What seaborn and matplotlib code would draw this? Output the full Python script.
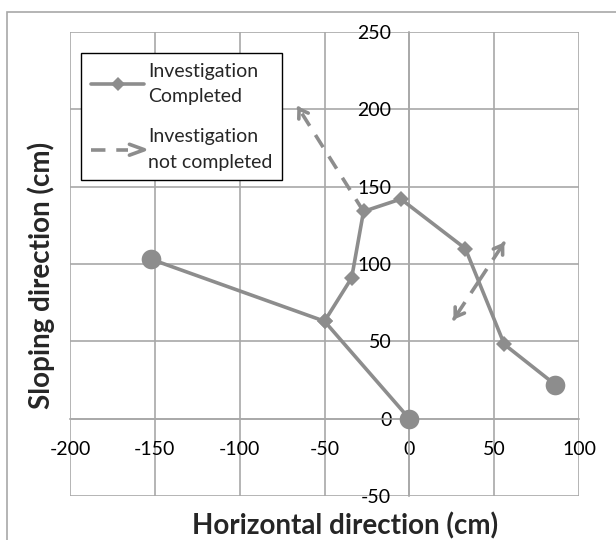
import numpy as np
import pandas as pd
import seaborn as sns
import matplotlib.pyplot as plt
from matplotlib.lines import Line2D
from matplotlib.patches import Rectangle
from matplotlib.legend_handler import HandlerBase

# Route with investigation completed (diamonds at each stop)
path_x = [0, -50, -34, -27, -5, 33, 56, 86]
path_y = [0, 63, 91, 134, 142, 110, 48, 22]
# Side branch to the far left end point
branch_x = [-50, -152]
branch_y = [63, 103]
# End points (big circles)
end_x = [0, -152, 86]
end_y = [0, 103, 22]
# Investigation not completed (dashed arrows)
arrow_x0 = [-27, 41, 41]
arrow_y0 = [134, 89, 89]
arrow_x1 = [-66, 56, 26]
arrow_y1 = [202, 114, 64]

grey = '#8d8d8d'
grid_grey = '#a8a8a8'

sns.set_style('white')
plt.rcParams['font.family'] = ['Lato', 'DejaVu Sans']
plt.rcParams['axes.unicode_minus'] = False

fig = plt.figure(figsize=(6.16, 5.4), dpi=100)
ax = fig.add_axes([70 / 616, 1 - 496 / 540, 509 / 616, 464 / 540])

path = pd.DataFrame({'x': path_x, 'y': path_y})
branch = pd.DataFrame({'x': branch_x, 'y': branch_y})
ends = pd.DataFrame({'x': end_x, 'y': end_y})

sns.lineplot(data=branch, x='x', y='y', sort=False, estimator=None, color=grey,
             lw=2.6, marker='D', markersize=8.5, markeredgewidth=0, ax=ax, zorder=3)
sns.lineplot(data=path, x='x', y='y', sort=False, estimator=None, color=grey,
             lw=2.6, marker='D', markersize=8.5, markeredgewidth=0, ax=ax, zorder=3)
sns.scatterplot(data=ends, x='x', y='y', color=grey, s=200, linewidth=0, ax=ax, zorder=4)

# dashed shafts + open arrow heads
for x0, y0, x1, y1 in zip(arrow_x0, arrow_y0, arrow_x1, arrow_y1):
    ax.plot([x0, x1], [y0, y1], color=grey, lw=2.6, ls=(0, (4, 3)), zorder=3)
    ax.annotate('', xy=(x1, y1), xytext=(x1 - 0.02 * (x1 - x0), y1 - 0.02 * (y1 - y0)),
                arrowprops=dict(arrowstyle='->,head_length=0.6,head_width=0.4',
                                color=grey, lw=2.6, shrinkA=0, shrinkB=0), zorder=3)

ax.set_xlim(-200, 100)
ax.set_ylim(-50, 250)
ax.set_xticks(np.arange(-200, 101, 50))
ax.set_yticks(np.arange(-50, 251, 50))
ax.grid(True, color=grid_grey, lw=1.2)
for g in ax.get_xgridlines() + ax.get_ygridlines():
    g.set_clip_on(False)
ax.set_axisbelow(True)

for s in ['top', 'right']:
    ax.spines[s].set_visible(False)
ax.spines['left'].set_position(('data', 0))
ax.spines['bottom'].set_position(('data', 0))
for s in ['left', 'bottom']:
    ax.spines[s].set_color(grid_grey)
    ax.spines[s].set_linewidth(1.2)
ax.tick_params(axis='x', length=0, pad=16, labelsize=14, colors='black')
ax.tick_params(axis='y', length=0, pad=13, labelsize=14, colors='black')
ax.set_xlabel('')
ax.set_ylabel('')

fig.text(345 / 616, 1 - 526 / 540, 'Horizontal direction (cm)', ha='center', va='center',
         fontsize=20, fontweight='bold')
fig.text(41 / 616, 1 - 275 / 540, 'Sloping direction (cm)', ha='center', va='center',
         rotation=90, fontsize=20, fontweight='bold')

# outer chart border
fig.patches.append(Rectangle((7 / 616, -0.1), 2, 1 - 12 / 540 + 0.1, transform=fig.transFigure,
                             fill=False, ec=grid_grey, lw=1.2))


class ArrowHandle:
    pass


class ArrowHandler(HandlerBase):
    def create_artists(self, legend, orig_handle, xdescent, ydescent, width, height,
                       fontsize, trans):
        y = height / 2 - ydescent
        x0 = -xdescent
        shaft = Line2D([x0, x0 + width * 0.7], [y, y], color=grey, lw=2.6,
                       ls=(0, (4, 3)), transform=trans)
        head = Line2D([x0 + width * 0.72, x0 + width, x0 + width * 0.72],
                      [y + height * 0.4, y, y - height * 0.4], color=grey, lw=2.6,
                      transform=trans)
        return [shaft, head]


h1 = Line2D([], [], color=grey, lw=2.6, marker='D', markersize=7, markeredgewidth=0)
h2 = ArrowHandle()
leg = ax.legend([h1, h2], ['Investigation\nCompleted', 'Investigation\nnot completed'],
                handler_map={ArrowHandle: ArrowHandler()},
                loc='upper left', bbox_to_anchor=(0.022, 0.955), borderaxespad=0,
                fontsize=14, frameon=True, fancybox=False, framealpha=1,
                edgecolor='black', handlelength=2.75, handletextpad=0.2,
                labelspacing=1.2, borderpad=0.5, numpoints=1)
for t in leg.get_texts():
    t.set_linespacing(1.6)
leg.get_frame().set_linewidth(1.0)

fig.savefig('out.png', dpi=100)
